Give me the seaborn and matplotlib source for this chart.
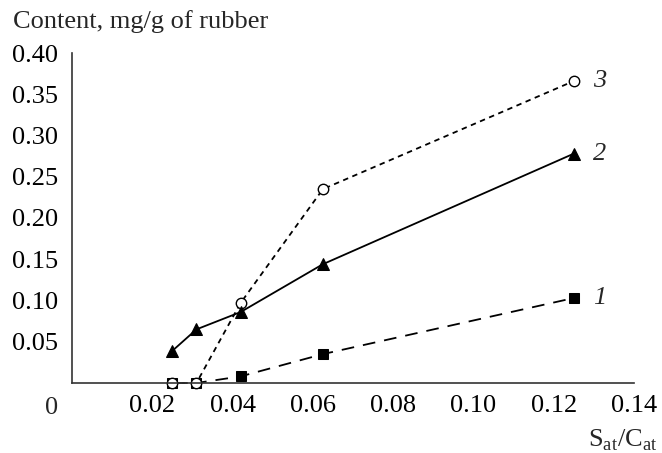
import matplotlib
matplotlib.use("Agg")
import matplotlib.pyplot as plt
import seaborn as sns
import pandas as pd

x_vals = [0.025, 0.031, 0.042, 0.0625, 0.125]
series1 = [0.0, 0.0, 0.008, 0.035, 0.103]
series2 = [0.039, 0.065, 0.086, 0.144, 0.278]
series3 = [0.0, 0.0, 0.097, 0.235, 0.366]
series_labels = ["1", "2", "3"]
x_ticks = [0.02, 0.04, 0.06, 0.08, 0.10, 0.12, 0.14]
x_ticklabels = ["0.02", "0.04", "0.06", "0.08", "0.10", "0.12", "0.14"]
y_ticks = [0.05, 0.10, 0.15, 0.20, 0.25, 0.30, 0.35, 0.40]
y_ticklabels = ["0.05", "0.10", "0.15", "0.20", "0.25", "0.30", "0.35", "0.40"]

sns.set_style("white")
plt.rcParams["font.family"] = ["Liberation Serif", "DejaVu Serif"]
plt.rcParams["mathtext.fontset"] = "custom"
plt.rcParams["mathtext.rm"] = "Liberation Serif"

FS = 19

fig = plt.figure(figsize=(6.62, 4.53), dpi=100)
ax = fig.add_axes([72/662, 1-383/453, (634-72)/662, (383-53)/453])

df = pd.DataFrame({"x": x_vals, "s1": series1, "s2": series2, "s3": series3})

common = dict(color="black", linewidth=1.3, clip_on=False, markeredgecolor="black", ax=ax)
sns.lineplot(data=df, x="x", y="s1", marker="s", markersize=7.5, markerfacecolor="black",
             linestyle=(0, (7, 5)), **common)
sns.lineplot(data=df, x="x", y="s3", marker="o", markersize=7.5, markerfacecolor="white",
             markeredgewidth=1.0, linestyle=(0, (3, 2.5)), **common)
sns.lineplot(data=df, x="x", y="s2", marker="^", markersize=8, markerfacecolor="black",
             linestyle="-", **common)

ax.set_xlim(0, 0.14)
ax.set_ylim(0, 0.40)
ax.set_xticks(x_ticks)
ax.set_xticklabels(x_ticklabels)
ax.set_yticks(y_ticks)
ax.set_yticklabels(y_ticklabels)
ax.tick_params(direction="in", length=6, width=1, labelsize=FS, colors="black")
ax.tick_params(axis="x", pad=9)
ax.tick_params(axis="y", pad=10)
for s in ["top", "right"]:
    ax.spines[s].set_visible(False)
for s in ["left", "bottom"]:
    ax.spines[s].set_color("#333333")
    ax.spines[s].set_linewidth(1.2)
ax.set_xlabel("")
ax.set_ylabel("")

# end labels
ends = [series1[-1], series2[-1], series3[-1]]
for lab, yv in zip(series_labels, ends):
    ax.annotate(lab, xy=(x_vals[-1], yv), xytext=(14, 0), textcoords="offset points",
                va="center", ha="left", fontsize=FS, style="italic")

fig.text(13/662, 1-22/453, "Content, mg/g of rubber", fontsize=FS, ha="left", va="center")
fig.text(52/662, 1-408/453, "0", fontsize=FS, ha="center", va="center")
fig.text(657/662, 1-440/453, r"S$_{\rm at}$/C$_{\rm at}$", fontsize=FS, ha="right", va="center")

fig.savefig("out.png", dpi=100)
